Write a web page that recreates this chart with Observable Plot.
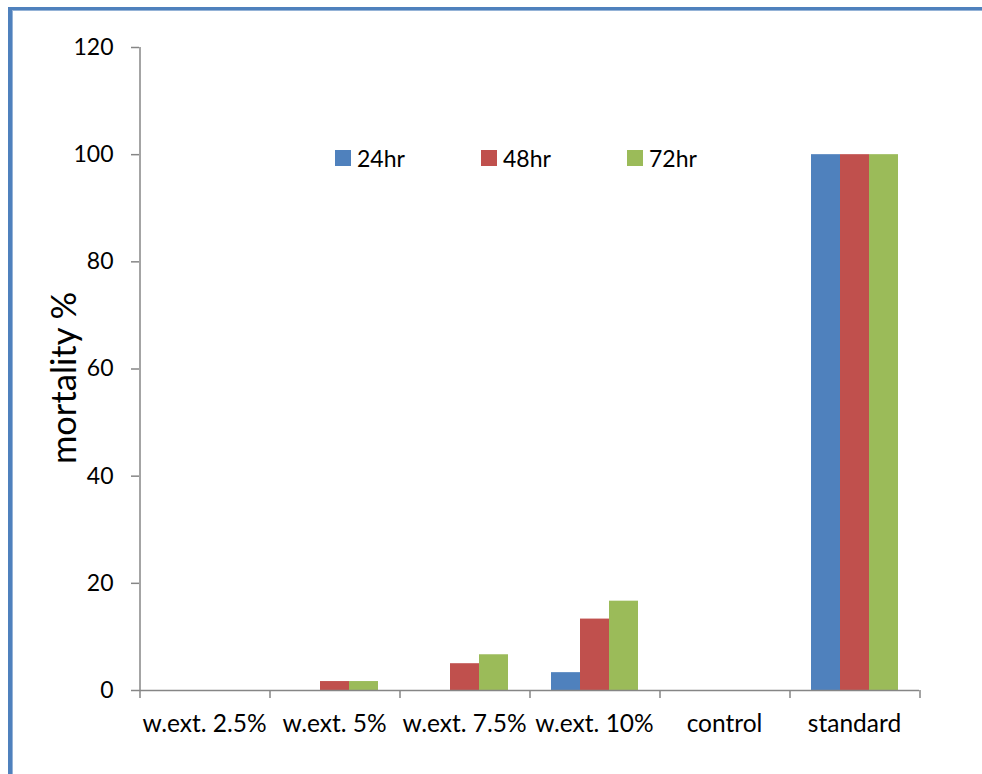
<!DOCTYPE html>
<html>
<head>
<meta charset="utf-8">
<script src="https://cdn.jsdelivr.net/npm/d3@7"></script>
<script src="https://cdn.jsdelivr.net/npm/@observablehq/plot@0.6"></script>
<style>
  html, body { margin: 0; padding: 0; background: #fff; }
  #wrap { position: relative; width: 982px; height: 774px; overflow: hidden; font-family: Lato, "Open Sans", sans-serif; }
  #border { position: absolute; left: 8px; top: 7px; right: -10px; bottom: -10px;
            border-left: 4px solid #4F81BD; border-top: 3px solid #4F81BD;
            box-shadow: inset 1px 1px 0 #95B3D7; }
  #chart { position: absolute; left: 0; top: 0; }
  #ylabel { position: absolute; left: 62px; top: 378px; transform: translate(-50%, -50%) rotate(-90deg);
            font-size: 34.5px; white-space: nowrap; color: #000; }
  #legend { position: absolute; top: 145px; left: 335px; display: flex; font-size: 23px; color: #000; }
  .item { display: flex; align-items: center; width: 146px; height: 26px; }
  .sw { width: 16px; height: 16px; margin-right: 6px; }
</style>
</head>
<body>
<div id="wrap">
  <div id="border"></div>
  <div id="chart"></div>
  <div id="ylabel">mortality %</div>
  <div id="legend"></div>
</div>
<script>
const categories = ["w.ext. 2.5%", "w.ext. 5%", "w.ext. 7.5%", "w.ext. 10%", "control", "standard"];
const series = ["24hr", "48hr", "72hr"];
const colors = ["#4F81BD", "#C0504D", "#9BBB59"];
const values24 = [0, 0, 0, 3.33, 0, 100];
const values48 = [0, 1.67, 5, 13.33, 0, 100];
const values72 = [0, 1.67, 6.67, 16.67, 0, 100];
const yTicks = [0, 20, 40, 60, 80, 100, 120];

const seriesValues = [values24, values48, values72];
const data = [];
categories.forEach((c, i) => series.forEach((s, j) => data.push({cat: c, series: s, value: seriesValues[j][i]})));

const axisGray = "#868686";
const plot = Plot.plot({
  width: 982,
  height: 774,
  marginLeft: 139,
  marginRight: 63,
  marginTop: 47,
  marginBottom: 84,
  style: {fontFamily: "Lato, 'Open Sans', sans-serif", fontSize: "23px", background: "transparent", color: "#000", overflow: "visible"},
  fx: {domain: categories, paddingInner: 0, paddingOuter: 0, label: null, axis: null},
  x: {domain: series, paddingInner: 0, paddingOuter: 0.741, axis: null},
  y: {domain: [0, 120], axis: null},
  color: {domain: series, range: colors},
  marks: [
    Plot.barY(data, {fx: "cat", x: "series", y: "value", fill: "series"}),
    Plot.ruleY(categories, {fx: d => d, y: () => 0, stroke: axisGray, strokeWidth: 1.5}),
    Plot.ruleX([categories[0]], {fx: d => d, x: () => series[0], y1: 0, y2: 120, dx: -36, stroke: axisGray, strokeWidth: 1.5}),
    Plot.ruleX(categories, {fx: d => d, x: () => series[0], y1: -1.5, y2: 0, dx: -36, stroke: axisGray, strokeWidth: 1.5}),
    Plot.ruleX([categories[categories.length - 1]], {fx: d => d, x: () => series[2], y1: -1.5, y2: 0, dx: 36, stroke: axisGray, strokeWidth: 1.5}),
    Plot.axisY({ticks: yTicks, tickSize: 8, tickPadding: 18, stroke: axisGray, strokeWidth: 1.5, fill: "#000", label: null, fontSize: 23}),
    Plot.axisFx({anchor: "bottom", tickSize: 0, tickPadding: 24, fill: "#000", label: null, fontSize: 24.5})
  ]
});
document.getElementById("chart").appendChild(plot);

const legend = document.getElementById("legend");
series.forEach((s, i) => {
  const item = document.createElement("div");
  item.className = "item";
  const sw = document.createElement("div");
  sw.className = "sw";
  sw.style.background = colors[i];
  const t = document.createElement("span");
  t.textContent = s;
  item.appendChild(sw);
  item.appendChild(t);
  legend.appendChild(item);
});
</script>
</body>
</html>
